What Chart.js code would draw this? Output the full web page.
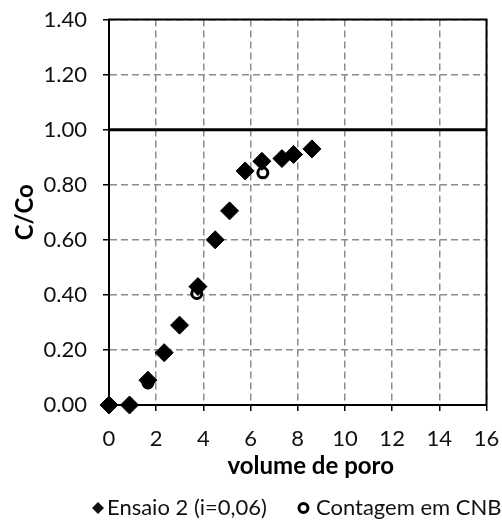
<!DOCTYPE html>
<html>
<head>
<meta charset="utf-8">
<script src="https://cdn.jsdelivr.net/npm/chart.js@4.4.1/dist/chart.umd.min.js"></script>
<style>
  html, body { margin: 0; padding: 0; background: #fff; }
  #wrap { width: 502px; height: 526px; }
</style>
</head>
<body>
<div id="wrap"><canvas id="breakthrough" width="502" height="526"></canvas></div>
<script>
// volume de poro vs C/Co
var ensaioX = [0, 0.87, 1.65, 2.34, 2.99, 3.77, 4.5, 5.11, 5.77, 6.48, 7.33, 7.82, 8.6];
var ensaioY = [0, 0, 0.09, 0.19, 0.29, 0.43, 0.6, 0.705, 0.85, 0.885, 0.895, 0.91, 0.93];

var contagemX = [1.65, 3.72, 6.52];
var contagemY = [0.08, 0.405, 0.843];

var refX = [0, 16];
var refY = [1, 1];

var labelEnsaio = "Ensaio 2 (i=0,06)";
var labelContagem = "Contagem em CNB";
var xTitle = "volume de poro";
var yTitle = "C/Co";

var fontFamily = "Lato, 'Open Sans', sans-serif";

function pairs(xs, ys) {
    var out = [];
    for (var i = 0; i < xs.length; i++) out.push({x: xs[i], y: ys[i]});
    return out;
}

var datumEnsaio = {
    label: labelEnsaio,
    data: pairs(ensaioX, ensaioY),
    showLine: false,
    pointStyle: 'rectRot',
    pointRadius: 9,
    pointHoverRadius: 9,
    pointBackgroundColor: "#000",
    pointBorderColor: "#000",
    pointBorderWidth: 1,
    clip: false
};

var datumContagem = {
    label: labelContagem,
    data: pairs(contagemX, contagemY),
    showLine: false,
    pointStyle: 'circle',
    pointRadius: 5,
    pointHoverRadius: 5,
    pointBackgroundColor: "#fff",
    pointBorderColor: "#000",
    pointBorderWidth: 3,
    clip: false
};

var datumRef = {
    label: "ref",
    data: pairs(refX, refY),
    showLine: true,
    borderColor: "#000",
    borderWidth: 3,
    pointRadius: 0,
    clip: false
};

// frame round the plot area, drawn under the points
var framePlugin = {
    id: 'frame',
    beforeDatasetsDraw: function(chart) {
        var a = chart.chartArea, ctx = chart.ctx;
        ctx.save();
        ctx.strokeStyle = "#000";
        ctx.lineWidth = 2;
        ctx.strokeRect(a.left, a.top, a.right - a.left, a.bottom - a.top);
        ctx.restore();
    }
};

// x title sits a little right of centre in the original, so draw it here
var xTitlePlugin = {
    id: 'xTitle',
    afterDraw: function(chart) {
        var ctx = chart.ctx, a = chart.chartArea;
        ctx.save();
        ctx.font = "bold 24px " + fontFamily;
        ctx.textAlign = "center";
        ctx.textBaseline = "middle";
        ctx.fillStyle = "#000";
        ctx.fillText(xTitle, (a.left + a.right) / 2 + 13, a.bottom + 61);
        ctx.restore();
    }
};

// legend drawn by hand so spacing can follow the original
var legendPlugin = {
    id: 'handLegend',
    afterDraw: function(chart) {
        var ctx = chart.ctx, a = chart.chartArea;
        var y = 508;
        ctx.save();
        ctx.font = "22px " + fontFamily;
        ctx.textBaseline = "middle";
        ctx.fillStyle = "#111";
        var w1 = ctx.measureText(labelEnsaio).width;
        var w2 = ctx.measureText(labelContagem).width;
        var gapDiamond = 15, gapCircle = 19, gapItem = 30;
        var total = gapDiamond + w1 + gapItem + gapCircle + w2;
        var x = (a.left + a.right) / 2 - 1 - total / 2;
        // diamond
        ctx.beginPath();
        ctx.moveTo(x, y);
        ctx.lineTo(x + 6, y - 6);
        ctx.lineTo(x + 12, y);
        ctx.lineTo(x + 6, y + 6);
        ctx.closePath();
        ctx.fill();
        ctx.fillText(labelEnsaio, x + gapDiamond, y);
        x += gapDiamond + w1 + gapItem;
        // open circle
        ctx.beginPath();
        ctx.arc(x + 6.5, y, 4.5, 0, Math.PI * 2);
        ctx.lineWidth = 3;
        ctx.strokeStyle = "#000";
        ctx.stroke();
        ctx.fillText(labelContagem, x + gapCircle, y);
        ctx.restore();
    }
};

var gridOpts = {
    color: "#8c8c8c",
    lineWidth: 1.5,
    borderDash: [7, 4],
    tickColor: "#000",
    tickLength: 6,
    tickWidth: 1.5,
    tickBorderDash: [1, 0]
};

var chart = new Chart(document.getElementById("breakthrough"), {
    type: 'scatter',
    data: { datasets: [datumEnsaio, datumContagem, datumRef] },
    options: {
        responsive: false,
        animation: false,
        layout: { autoPadding: false, padding: { top: 19.5, right: 15.5, bottom: 41, left: 0 } },
        plugins: {
            legend: { display: false },
            tooltip: { enabled: false }
        },
        scales: {
            x: {
                type: 'linear',
                min: 0, max: 16,
                afterFit: function(s) { s.height = 80; s.paddingLeft = 0; s.paddingRight = 0; },
                ticks: {
                    stepSize: 2,
                    padding: 15,
                    color: "#111",
                    font: { family: fontFamily, size: 22 }
                },
                grid: gridOpts,
                border: { display: true, color: "rgba(0,0,0,0)", dash: [7, 4] },
                title: { display: false }
            },
            y: {
                type: 'linear',
                min: 0, max: 1.4,
                afterFit: function(s) { s.width = 109; s.paddingTop = 0; s.paddingBottom = 0; },
                ticks: {
                    stepSize: 0.2,
                    padding: 16,
                    color: "#111",
                    font: { family: fontFamily, size: 22 },
                    callback: function(v) { return v.toFixed(2); }
                },
                grid: gridOpts,
                border: { display: true, color: "rgba(0,0,0,0)", dash: [7, 4] },
                title: {
                    display: true,
                    text: yTitle,
                    color: "#000",
                    padding: { top: 11, bottom: 0 },
                    font: { family: fontFamily, size: 24, weight: 'bold' }
                }
            }
        }
    },
    plugins: [framePlugin, xTitlePlugin, legendPlugin]
});
</script>
</body>
</html>
